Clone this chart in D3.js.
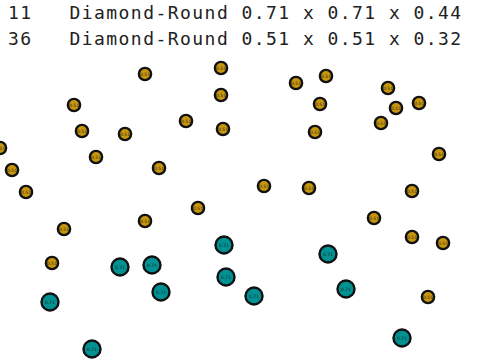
<!DOCTYPE html>
<html>
<head>
<meta charset="utf-8">
<script src="https://cdn.jsdelivr.net/npm/d3@7"></script>
<style>
  html, body { margin: 0; padding: 0; background: #fff; }
  svg { display: block; }
</style>
</head>
<body>
<svg class="d3" width="480" height="360"></svg>
<script>
// legend rows: count, shape, dimensions
const counts = [11, 36];
const shapes = ['Diamond-Round', 'Diamond-Round'];
const dims = [[0.71, 0.71, 0.44], [0.51, 0.51, 0.32]];

// bigger stones (0.71)
const bigX = [224, 328, 120, 152, 226, 161, 346, 254, 50, 402, 92];
const bigY = [245, 254, 267, 265, 277, 292, 289, 296, 302, 338, 349];

// smaller stones (0.51)
const smallX = [145, 221, 221, 74, 82, 125, 186, 223, 0, 12, 96, 159, 26, 198,
  296, 326, 320, 315, 388, 396, 419, 381, 439, 264, 309, 412,
  145, 64, 52, 374, 412, 443, 428];
const smallY = [74, 68, 95, 105, 131, 134, 121, 129, 148, 170, 157, 168, 192, 208,
  83, 76, 104, 132, 88, 108, 103, 123, 154, 186, 188, 191,
  221, 229, 263, 218, 237, 243, 297];

const colors = ['#009292', '#c8960c'];

const svg = d3.select('svg.d3');
const width = 480, height = 360;

const x = d3.scaleLinear().domain([0, 480]).range([0, width]);
const y = d3.scaleLinear().domain([0, 360]).range([0, height]);
const r = d3.scaleLinear().domain([0, 1]).range([0, 12]);

// header text
svg.append('g')
  .selectAll('text')
  .data(counts)
  .enter()
  .append('text')
  .attr('x', 8)
  .attr('y', (d, i) => 18.5 + i * 26.5)
  .attr('xml:space', 'preserve')
  .style('white-space', 'pre')
  .attr('font-family', '"DejaVu Sans Mono", monospace')
  .attr('font-size', 18)
  .attr('letter-spacing', 1.45)
  .attr('fill', '#222')
  .text((d, i) => String(d).padEnd(5, ' ') + shapes[i] + ' ' + dims[i].map(v => v.toFixed(2)).join(' x '));

const stones = [];
bigX.forEach((v, i) => stones.push({ x: v, y: bigY[i], size: dims[0][0], color: colors[0] }));
smallX.forEach((v, i) => stones.push({ x: v, y: smallY[i], size: dims[1][0], color: colors[1] }));

const node = svg.append('g')
  .selectAll('g')
  .data(stones)
  .enter()
  .append('g')
  .attr('transform', d => `translate(${x(d.x)},${y(d.y)})`);

node.append('circle')
  .attr('r', d => r(d.size))
  .attr('fill', d => d.color)
  .attr('stroke', '#111')
  .attr('stroke-width', 2.4);

node.append('text')
  .attr('text-anchor', 'middle')
  .attr('dy', '0.35em')
  .attr('font-family', 'DejaVu Sans, sans-serif')
  .attr('font-size', 4.5)
  .attr('fill', '#222')
  .text(d => d.size.toFixed(2));
</script>
</body>
</html>
